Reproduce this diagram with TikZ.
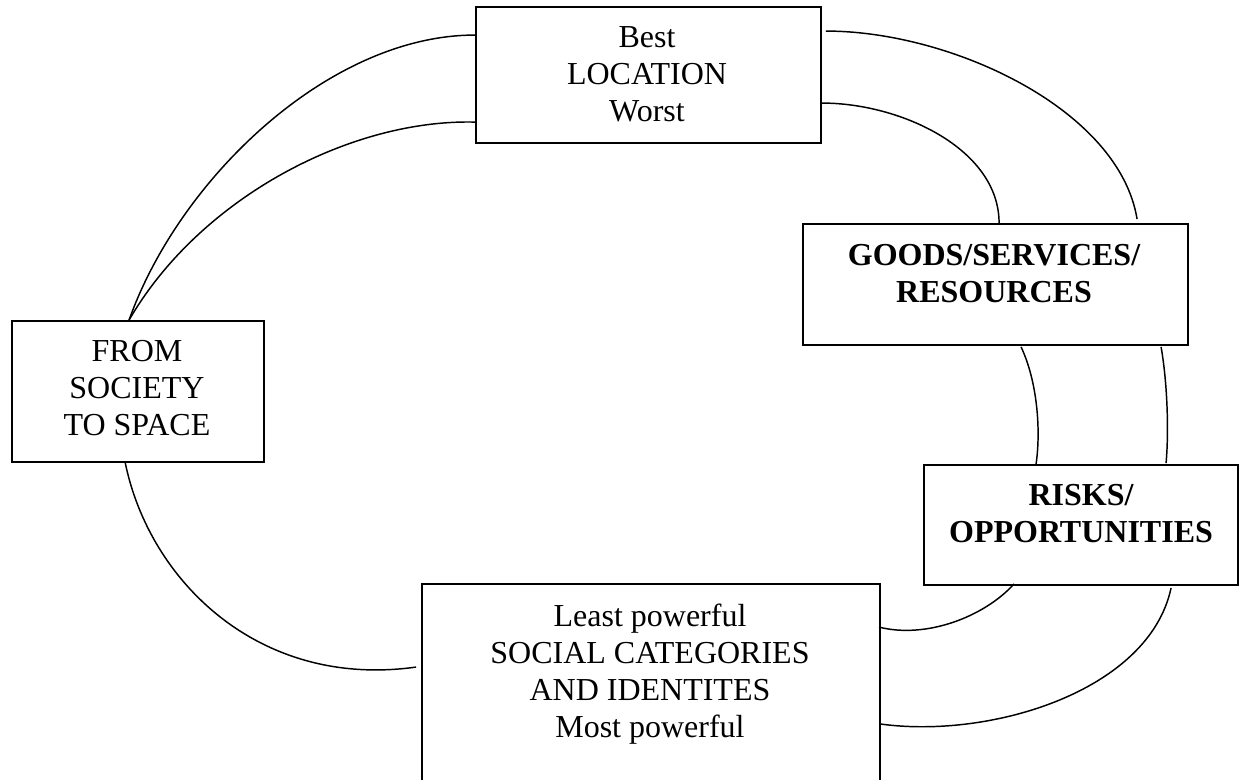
\documentclass[tikz,border=0pt]{standalone}
\usepackage{fontspec}
\setmainfont{Liberation Serif}
\usetikzlibrary{calc}
\begin{document}
\begin{tikzpicture}[x=0.75pt,y=-0.75pt,
  box/.style={draw, line width=1.4pt, rectangle, inner sep=0pt},
  label/.style={align=center, inner sep=0pt, font=\fontsize{24}{27.75}\selectfont},
  link/.style={line width=1.1pt}]
\useasboundingbox (0,0) rectangle (1241,780);
\clip (0,0) rectangle (1241,780);
% boxes
\node[box, minimum width=258.75pt, minimum height=102pt] (loc) at (648.5,75) {};
\node[box, minimum width=288.75pt, minimum height=90.75pt] (goods) at (995.5,284.5) {};
\node[box, minimum width=235.5pt, minimum height=90pt] (risks) at (1081,525) {};
\node[box, minimum width=343.5pt, minimum height=162pt] (social) at (651,692) {};
\node[box, minimum width=189pt, minimum height=105.75pt] (from) at (138,391.5) {};
% texts
\node[label] (loct) at (647,74.7) {Best\\LOCATION\\Worst};
\node[label, font=\fontsize{24}{27.75}\selectfont\bfseries] (goodst) at (994,273.5) {GOODS/SERVICES/\\RESOURCES};
\node[label, font=\fontsize{24}{27.75}\selectfont\bfseries] (riskst) at (1081,513.5) {RISKS/\\OPPORTUNITIES};
\node[label] (socialt) at (650,674) {Least powerful\\SOCIAL CATEGORIES\\AND IDENTITES\\Most powerful};
\node[label] (fromt) at (137,388) {FROM\\SOCIETY\\TO SPACE};
% connectors
\draw[link] ($(loc.north west)+(0,29)$) .. controls +(-146,0) and +(50,-141) .. ($(from.north west)+(118,0)$);
\draw[link] ($(loc.north west)+(0,116)$) .. controls +(-126,-3) and +(70,-121) .. ($(from.north west)+(118,0)$);
\draw[link] ($(loc.north east)+(4,25)$) .. controls +(125,0) and +(-18,-110) .. ($(goods.north west)+(335,-4)$);
\draw[link] ($(loc.north east)+(0,97)$) .. controls +(79,0) and +(0,-74) .. ($(goods.north west)+(197,0)$);
\draw[link] ($(goods.south west)+(219,1)$) .. controls +(16,34) and +(5,-35) .. ($(risks.north west)+(113,0)$);
\draw[link] ($(goods.south west)+(359,1)$) .. controls +(6,34) and +(3,-34) .. ($(risks.north west)+(243,-1)$);
\draw[link] ($(risks.south west)+(91,-2)$) .. controls +(-30,33) and +(47,12) .. ($(social.north east)+(-2,44)$);
\draw[link] ($(risks.south west)+(248,2)$) .. controls +(-22,103) and +(110,15) .. ($(social.north east)+(0,141)$);
\draw[link] ($(from.south west)+(114,-1)$) .. controls +(24,119) and +(-157,22) .. ($(social.north west)+(-5,84)$);
\end{tikzpicture}
\end{document}
